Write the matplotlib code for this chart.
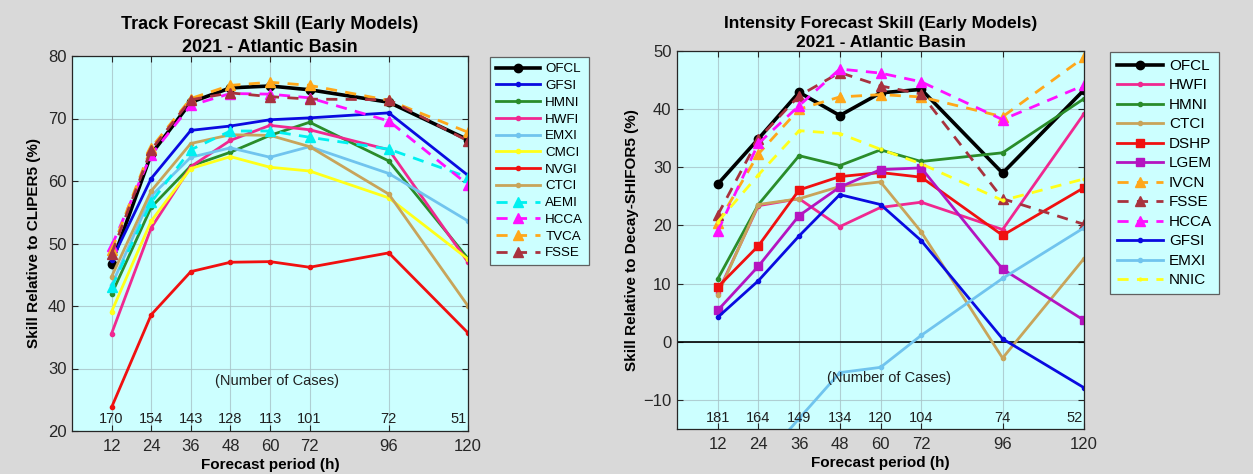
import matplotlib
matplotlib.use("Agg")
import matplotlib.pyplot as plt
from matplotlib.lines import Line2D

plt.rcParams['font.family'] = ['Liberation Sans', 'DejaVu Sans']

# ---------------- data ----------------
hours = [12, 24, 36, 48, 60, 72, 96, 120]

# Track forecast skill (left)
track_cases = [170, 154, 143, 128, 113, 101, 72, 51]
track_OFCL = [46.8, 64.3, 72.6, 74.9, 75.2, 74.6, 72.6, 66.6]
track_GFSI = [47.3, 60.4, 68.1, 68.8, 69.8, 70.1, 70.9, 60.9]
track_HMNI = [41.9, 55.8, 62.4, 64.6, 67.3, 69.4, 63.2, 47.6]
track_HWFI = [35.6, 52.5, 62.3, 66.5, 68.9, 68.2, 65.0, 47.0]
track_EMXI = [43.3, 57.6, 63.8, 65.3, 63.8, 65.5, 61.2, 53.6]
track_CMCI = [39.1, 53.6, 62.0, 63.9, 62.2, 61.6, 57.3, 47.5]
track_NVGI = [23.8, 38.6, 45.5, 47.0, 47.1, 46.2, 48.5, 35.7]
track_CTCI = [44.7, 58.4, 66.0, 67.4, 67.3, 65.5, 57.9, 40.0]
track_AEMI = [43.0, 56.6, 65.0, 68.0, 68.0, 67.0, 65.1, 60.6]
track_HCCA = [49.6, 64.2, 72.1, 74.0, 73.9, 73.3, 69.6, 59.4]
track_TVCA = [48.9, 65.3, 73.2, 75.3, 75.8, 75.3, 72.9, 67.8]
track_FSSE = [48.4, 65.0, 73.0, 74.1, 73.5, 73.1, 73.0, 66.4]

# Intensity forecast skill (right)
inten_cases = [181, 164, 149, 134, 120, 104, 74, 52]
inten_OFCL = [27.1, 34.9, 42.9, 38.9, 42.8, 43.4, 29.0, 43.3]
inten_HWFI = [8.4, 23.4, 24.6, 19.8, 23.1, 24.0, 19.3, 39.2]
inten_HMNI = [10.8, 23.6, 32.0, 30.3, 33.0, 31.0, 32.5, 41.8]
inten_CTCI = [8.1, 23.6, 24.6, 26.7, 27.5, 18.9, -2.8, 14.3]
inten_DSHP = [9.4, 16.5, 26.1, 28.4, 29.1, 28.3, 18.3, 26.5]
inten_LGEM = [5.4, 13.0, 21.7, 26.6, 29.6, 29.9, 12.5, 3.7]
inten_IVCN = [20.4, 32.3, 40.0, 42.1, 42.5, 42.1, 38.7, 48.9]
inten_FSSE = [21.8, 34.9, 42.3, 46.3, 44.0, 42.6, 24.6, 20.2]
inten_HCCA = [19.0, 34.1, 40.6, 46.9, 46.2, 44.7, 38.2, 44.1]
inten_GFSI = [4.2, 10.5, 18.2, 25.3, 23.6, 17.4, 0.5, -7.9]
inten_EMXI = [-30.0, -21.2, -13.2, -5.3, -4.4, 1.1, 10.9, 19.6]
inten_NNIC = [20.6, 28.7, 36.3, 35.8, 33.1, 30.6, 24.3, 28.0]

track_series = [
    ("OFCL", track_OFCL), ("GFSI", track_GFSI), ("HMNI", track_HMNI),
    ("HWFI", track_HWFI), ("EMXI", track_EMXI), ("CMCI", track_CMCI),
    ("NVGI", track_NVGI), ("CTCI", track_CTCI), ("AEMI", track_AEMI),
    ("HCCA", track_HCCA), ("TVCA", track_TVCA), ("FSSE", track_FSSE),
]
inten_series = [
    ("OFCL", inten_OFCL), ("HWFI", inten_HWFI), ("HMNI", inten_HMNI),
    ("CTCI", inten_CTCI), ("DSHP", inten_DSHP), ("LGEM", inten_LGEM),
    ("IVCN", inten_IVCN), ("FSSE", inten_FSSE), ("HCCA", inten_HCCA),
    ("GFSI", inten_GFSI), ("EMXI", inten_EMXI), ("NNIC", inten_NNIC),
]

# ---------------- styles ----------------
BLUE = '#0a0ae0'
GREEN = '#2a8c2a'
PINK = '#f02890'
LBLUE = '#70c4ee'
YELLOW = '#ffff1a'
RED = '#f01010'
TAN = '#c8a45a'
CYAN = '#00f0f0'
MAGENTA = '#ff10ff'
ORANGE = '#ffa71a'
BROWN = '#a8323e'
PURPLE = '#b414c0'

def dot(color):
    return dict(color=color, lw=2.0, ls='-', marker='o', ms=3, mfc=color, mec=color)

def tri(color):
    return dict(color=color, lw=2.0, ls=(0, (4, 3)), marker='^', ms=7, mfc=color, mec=color)

def sq(color):
    return dict(color=color, lw=2.0, ls='-', marker='s', ms=5.5, mfc=color, mec=color)

styles_track = {
    "OFCL": dict(color='black', lw=2.6, ls='-', marker='o', ms=6, mfc='black', mec='black'),
    "GFSI": dot(BLUE), "HMNI": dot(GREEN), "HWFI": dot(PINK), "EMXI": dot(LBLUE),
    "CMCI": dot(YELLOW), "NVGI": dot(RED), "CTCI": dot(TAN),
    "AEMI": tri(CYAN), "HCCA": tri(MAGENTA), "TVCA": tri(ORANGE), "FSSE": tri(BROWN),
}
styles_inten = {
    "OFCL": dict(color='black', lw=2.6, ls='-', marker='o', ms=6, mfc='black', mec='black'),
    "HWFI": dot(PINK), "HMNI": dot(GREEN), "CTCI": dot(TAN),
    "DSHP": sq(RED), "LGEM": sq(PURPLE),
    "IVCN": tri(ORANGE), "FSSE": tri(BROWN), "HCCA": tri(MAGENTA),
    "GFSI": dot(BLUE), "EMXI": dot(LBLUE),
    "NNIC": dict(color=YELLOW, lw=2.0, ls=(0, (4, 3)), marker='o', ms=2, mfc=YELLOW, mec=YELLOW),
}

FIG_BG = '#d9d9d9'
AX_BG = '#ccffff'
W, H = 1253, 474

fig = plt.figure(figsize=(W / 100, H / 100), dpi=100, facecolor=FIG_BG)

def px_axes(x0, y0, x1, y1):
    return fig.add_axes([x0 / W, 1 - y1 / H, (x1 - x0) / W, (y1 - y0) / H])

def style_axes(ax, ylim, yticks):
    ax.set_facecolor(AX_BG)
    ax.set_xlim(0, 120)
    ax.set_ylim(*ylim)
    ax.set_xticks(hours)
    ax.set_yticks(yticks)
    ax.grid(True, color='#a8c4c8', lw=0.8, alpha=0.8)
    ax.set_axisbelow(True)
    ax.tick_params(direction='in', length=4, width=0.8, top=True, right=True,
                   labelsize=12, colors='#262626', pad=4)
    ax.tick_params(axis='x', pad=6)
    for s in ax.spines.values():
        s.set_color('#262626')
        s.set_linewidth(0.9)
    ax.set_xlabel('Forecast period (h)', fontsize=11, fontweight='bold', labelpad=3)

def add_legend(series, styles, x, y, fs, ls, hl):
    handles = [Line2D([0], [0], **styles[name]) for name, _ in series]
    leg = fig.legend(handles, [n for n, _ in series], loc='upper left',
                     bbox_to_anchor=(x / W, 1 - y / H), bbox_transform=fig.transFigure,
                     fontsize=fs, handlelength=hl, labelspacing=ls, handletextpad=0.4,
                     borderpad=0.45, borderaxespad=0, fancybox=False, framealpha=1)
    leg.get_frame().set_facecolor(AX_BG)
    leg.get_frame().set_edgecolor('#606060')
    leg.get_frame().set_linewidth(0.9)

def add_cases(ax, cases, y):
    for i, (h, c) in enumerate(zip(hours, cases)):
        last = i == len(hours) - 1
        ax.text(h - (0.3 if last else 0), y, str(c), ha='right' if last else 'center',
                va='center', fontsize=10.5, color='#202020')

# ---------------- left chart ----------------
ax1 = px_axes(72, 56, 468, 431)
style_axes(ax1, (20, 80), range(20, 81, 10))
for name, vals in track_series:
    ax1.plot(hours, vals, **styles_track[name], clip_on=True)
ax1.set_title('Track Forecast Skill (Early Models)\n2021 - Atlantic Basin',
              fontsize=13, fontweight='bold', pad=3, linespacing=1.45)
ax1.set_ylabel('Skill Relative to CLIPER5 (%)', fontsize=11, fontweight='bold', labelpad=5)
add_cases(ax1, track_cases, 21.9)
ax1.text(62, 28.0, '(Number of Cases)', ha='center', va='center', fontsize=10.5, color='#202020')
add_legend(track_series, styles_track, 490, 57, 9.6, 0.33, 3.3)

# ---------------- right chart ----------------
ax2 = px_axes(677, 51, 1084, 429)
style_axes(ax2, (-15, 50), range(-10, 51, 10))
ax2.axhline(0, color='black', lw=1.2, zorder=1.5)
for name, vals in inten_series:
    ax2.plot(hours, vals, **styles_inten[name], clip_on=True)
ax2.set_title('Intensity Forecast Skill (Early Models)\n2021 - Atlantic Basin',
              fontsize=12.5, fontweight='bold', pad=3, linespacing=1.3)
ax2.set_ylabel('Skill Relative to Decay-SHIFOR5 (%)', fontsize=11, fontweight='bold', labelpad=3)
add_cases(ax2, inten_cases, -13.1)
ax2.text(62.5, -6.2, '(Number of Cases)', ha='center', va='center', fontsize=10.5, color='#202020')
add_legend(inten_series, styles_inten, 1110, 52, 11, 0.36, 3.0)

fig.savefig('out.png', dpi=100, facecolor=FIG_BG)
